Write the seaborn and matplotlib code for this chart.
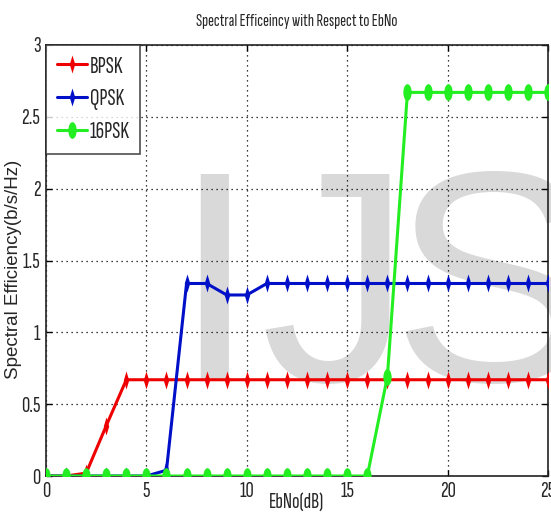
import numpy as np
import pandas as pd
import matplotlib
matplotlib.use("Agg")
import matplotlib.pyplot as plt
from matplotlib.path import Path
from matplotlib.transforms import Affine2D
from matplotlib import font_manager as fm
import seaborn as sns

ebno = list(range(0, 26))
bpsk = [0, 0, 0.02, 0.35] + [0.67] * 22
qpsk = [0, 0, 0, 0, 0, 0, 0.04, 1.34, 1.34, 1.26, 1.26] + [1.34] * 15
psk16 = [0] * 17 + [0.69] + [2.67] * 8
series_names = ["BPSK", "QPSK", "16PSK"]
series_colors = ["#ee0000", "#0010c8", "#22ee22"]
xticks = [0, 5, 10, 15, 20, 25]
yticks = [0, 0.5, 1, 1.5, 2, 2.5, 3]
ytick_labels = ["0", "0.5", "1", "1.5", "2", "2.5", "3"]
watermark_letters = ["I", "J", "S"]

sns.set_theme(style="white")
narrow = ["Sofia Sans Extra Condensed", "DejaVu Sans"]
plt.rcParams["font.family"] = narrow

fig = plt.figure(figsize=(5.51, 5.19), dpi=100)
ax = fig.add_axes([46 / 551, 1 - 476 / 519, (548 - 46) / 551, (476 - 45) / 519])

# vertically elongated markers
ellipse = Path.unit_circle().transformed(Affine2D().scale(0.5, 1.0))
thin = Path([(0, -1), (0.3, 0), (0, 1), (-0.3, 0), (0, -1)],
            [Path.MOVETO, Path.LINETO, Path.LINETO, Path.LINETO, Path.CLOSEPOLY])

df = pd.DataFrame({"EbNo": ebno, "BPSK": bpsk, "QPSK": qpsk, "16PSK": psk16})
markers = [thin, thin, ellipse]
msizes = [13, 13, 12]
for name, col, mk, ms in zip(series_names, series_colors, markers, msizes):
    sns.lineplot(data=df, x="EbNo", y=name, ax=ax, color=col, marker=mk,
                 markersize=ms, markeredgewidth=0, linewidth=2.2, label=name,
                 zorder=3)

# watermark (letters placed individually)
wm_font = fm.FontProperties(fname=fm.findfont(fm.FontProperties(family="Liberation Sans")),
                            size=217)
for letter, cx in zip(watermark_letters, [214, 336, 492]):
    ax.text(cx / 551, 1 - 381 / 519, letter, transform=fig.transFigure,
            fontproperties=wm_font, color="#d9d9d9",
            ha="center", va="baseline", zorder=0.5, clip_on=False)

ax.set_xlim(0, 25)
ax.set_ylim(0, 3)
ax.set_xticks(xticks)
ax.set_xticklabels([str(t) for t in xticks])
ax.set_yticks(yticks)
ax.set_yticklabels(ytick_labels)
ax.set_axisbelow("line")
ax.grid(True, linestyle=(0, (1, 3)), color="black", linewidth=0.9)
ax.tick_params(direction="in", length=4, width=1, color="black",
               labelsize=16.5, pad=4, top=True, right=True, left=True, bottom=True)
for sp in ax.spines.values():
    sp.set_color("#222222")
    sp.set_linewidth(1.2)

ax.set_title("Spectral Efficeincy with Respect to EbNo", fontsize=13, pad=14)
ax.set_xlabel("EbNo(dB)", fontsize=16)
ax.xaxis.set_label_coords(0.5, -0.06, transform=ax.transAxes)
ax.xaxis.label.set_va("center")
ax.set_ylabel("Spectral Efficiency(b/s/Hz)", fontsize=13.5,
              family=["Liberation Sans", "DejaVu Sans"])
ax.yaxis.set_label_coords(14 / 551, 1 - 269 / 519, transform=fig.transFigure)
ax.yaxis.label.set_va("center")

leg = ax.legend(loc="upper left", borderaxespad=0, fontsize=17, frameon=True,
                fancybox=False, edgecolor="#222222", handlelength=1.3,
                handletextpad=0.1, labelspacing=0.45, borderpad=0.45)
leg.get_frame().set_linewidth(1.2)

fig.savefig("out.png", dpi=100, facecolor="white")
